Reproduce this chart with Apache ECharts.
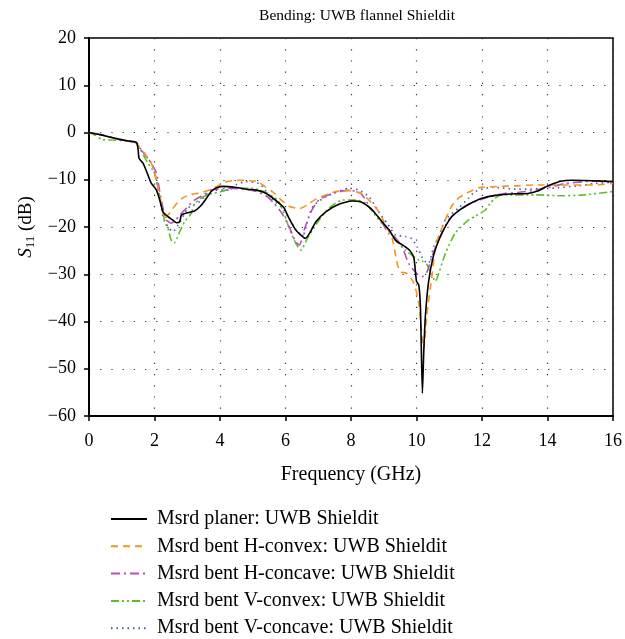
<!DOCTYPE html>
<html>
<head>
<meta charset="utf-8">
<script src="https://cdn.jsdelivr.net/npm/echarts@6/dist/echarts.min.js"></script>
<style>
  html, body { margin: 0; padding: 0; background: #fff; }
  #chart { width: 625px; height: 639px; }
</style>
</head>
<body>
<div id="chart"></div>
<script>
// [GHz, dB] pairs
const planer = [[0,0],[0.3,-0.4],[0.6,-0.9],[0.9,-1.4],[1.2,-1.8],[1.45,-2.1],[1.5,-3.7],[1.53,-5.5],[1.65,-6.5],[1.8,-9],[1.9,-10.7],[2.06,-12.2],[2.16,-14.3],[2.26,-16.8],[2.41,-17.8],[2.55,-18.5],[2.67,-19.1],[2.77,-18.9],[2.82,-17.5],[3.0,-17],[3.22,-16.6],[3.4,-15.6],[3.55,-14.3],[3.73,-12.5],[3.9,-11.7],[4.1,-11.4],[4.44,-11.6],[4.8,-12],[5.1,-12.2],[5.35,-12.7],[5.56,-13.6],[5.81,-15],[5.96,-16],[6.11,-18.2],[6.3,-20.5],[6.45,-21.6],[6.6,-22.4],[6.72,-21.5],[6.93,-18.9],[7.23,-16.8],[7.63,-15.2],[8.04,-14.5],[8.34,-14.8],[8.65,-16.4],[8.95,-18.9],[9.16,-20.6],[9.36,-22.8],[9.5,-23.5],[9.66,-24.2],[9.8,-25],[9.92,-26.5],[10.0,-31.5],[10.07,-32.3],[10.12,-37],[10.18,-55.2],[10.22,-46.7],[10.27,-39],[10.37,-31.5],[10.52,-26],[10.68,-22.8],[10.85,-20.3],[11.08,-17.8],[11.3,-16.5],[11.49,-15.6],[11.7,-14.8],[12.0,-13.9],[12.4,-13.3],[12.9,-13],[13.4,-12.9],[13.7,-12.4],[13.92,-11.6],[14.15,-10.9],[14.4,-10.3],[14.73,-10.1],[15.34,-10.2],[16,-10.4]];

const hConvex = [[0,0],[0.3,-0.4],[0.6,-0.9],[0.9,-1.4],[1.2,-1.8],[1.45,-2.2],[1.55,-3.3],[1.7,-4.4],[1.9,-6.5],[2.0,-8.3],[2.11,-11.8],[2.21,-15.3],[2.31,-18.2],[2.4,-17.5],[2.55,-16.2],[2.7,-14.8],[2.85,-13.9],[3.07,-13.2],[3.43,-12.7],[3.7,-12.1],[3.93,-11.3],[4.2,-10.4],[4.6,-10.1],[5.05,-10.3],[5.2,-10.6],[5.4,-11.6],[5.6,-12.5],[5.81,-13.9],[6.11,-15.6],[6.42,-16.1],[6.67,-15.3],[6.9,-14.2],[7.13,-13.5],[7.53,-12.5],[7.94,-12.3],[8.24,-12.7],[8.55,-14.3],[8.85,-16.8],[9.06,-19.6],[9.26,-22.5],[9.41,-27.7],[9.51,-29.5],[9.71,-29.8],[9.92,-31.9],[10.07,-36.1],[10.22,-45.8],[10.32,-38.3],[10.47,-30.5],[10.6,-23.5],[10.88,-18.5],[11.08,-15.5],[11.3,-13.8],[11.6,-12.6],[11.9,-11.7],[12.5,-11.4],[13.0,-11.3],[13.6,-11.1],[14.4,-11.1],[15.4,-11.1],[16,-10.8]];

const hConcave = [[0,0],[0.3,-0.4],[0.6,-0.9],[0.9,-1.5],[1.2,-1.8],[1.45,-2.2],[1.5,-3],[1.7,-4.6],[1.9,-6.5],[2.06,-8.6],[2.16,-12.5],[2.26,-16],[2.36,-18.5],[2.51,-19.2],[2.65,-18.5],[2.77,-17.5],[2.92,-16.4],[3.22,-14.3],[3.5,-13.2],[3.73,-12.2],[4.24,-11.8],[4.95,-12.2],[5.2,-12.7],[5.45,-13.6],[5.65,-15],[5.86,-16.8],[6.11,-19.9],[6.3,-23],[6.42,-23.8],[6.6,-20],[6.8,-16.5],[7.03,-14.2],[7.43,-12.9],[7.94,-12.2],[8.3,-12.9],[8.6,-16],[8.9,-18.5],[9.16,-21.5],[9.3,-21.8],[9.56,-24.2],[9.76,-27.7],[10.0,-29.8],[10.17,-30.5],[10.32,-29.5],[10.47,-26.3],[10.68,-22.8],[10.98,-18.5],[11.28,-16.6],[11.6,-15.2],[12.0,-14.1],[12.6,-13],[13.1,-12.7],[13.62,-12.2],[14.12,-11.5],[14.53,-10.8],[15.13,-10.4],[15.64,-10.2],[16,-10.4]];

const vConvex = [[0,0],[0.2,-0.6],[0.4,-1.5],[0.7,-1.6],[1.0,-1.7],[1.3,-1.9],[1.45,-2.3],[1.6,-4],[1.8,-6.5],[2.0,-8.6],[2.16,-13.6],[2.26,-16.8],[2.31,-18.9],[2.41,-20.3],[2.51,-22.8],[2.6,-23.4],[2.7,-22.2],[2.77,-21],[2.92,-18.9],[3.12,-17.1],[3.22,-15.2],[3.4,-14],[3.63,-13.2],[4.04,-12.5],[4.44,-11.8],[4.95,-11.8],[5.35,-12.5],[5.76,-14.3],[5.95,-17],[6.11,-20.2],[6.32,-23.5],[6.47,-24.9],[6.67,-22.4],[7.03,-18.5],[7.33,-16],[7.74,-14.3],[8.15,-14.3],[8.45,-15],[8.85,-18.5],[9.16,-20.6],[9.36,-22.8],[9.66,-24.9],[10.07,-27],[10.17,-27.2],[10.32,-28],[10.45,-30],[10.58,-31.5],[10.68,-29.8],[10.88,-25.6],[11.18,-21.3],[11.59,-18.5],[11.8,-17.7],[12.1,-16.4],[12.25,-15],[12.4,-13.9],[12.6,-13.2],[13.62,-13.2],[14.43,-13.4],[15.13,-13.2],[16,-12.5]];

const vConcave = [[0,0],[0.3,-0.4],[0.6,-0.9],[0.9,-1.4],[1.2,-1.8],[1.45,-2.2],[1.55,-3.2],[1.7,-4.5],[1.9,-6.5],[2.0,-8.5],[2.11,-11.8],[2.26,-17.8],[2.41,-19.9],[2.56,-21],[2.72,-19.6],[3.02,-16],[3.22,-15.2],[3.38,-14.6],[3.78,-12.2],[4.29,-12.2],[4.5,-11],[4.8,-10.4],[5.2,-10.8],[5.4,-12.3],[5.61,-14.3],[5.91,-16],[6.11,-18.2],[6.32,-20.6],[6.47,-21.5],[6.55,-21.5],[6.7,-18],[6.85,-15.5],[7.23,-13.6],[7.94,-11.8],[8.24,-12.2],[8.55,-13.6],[8.85,-16.8],[9.1,-19.2],[9.36,-21.7],[9.66,-22],[9.86,-22.5],[10.02,-24.2],[10.22,-27],[10.37,-27.7],[10.52,-24.2],[10.68,-22],[10.88,-18.5],[11.28,-16],[11.59,-13.9],[11.79,-12.5],[12.3,-11.6],[13.1,-12],[14.12,-11.8],[14.93,-11.3],[15.44,-10.8],[16,-10.5]];

const seriesNames = [
  'Msrd planer: UWB Shieldit',
  'Msrd bent H-convex: UWB Shieldit',
  'Msrd bent H-concave: UWB Shieldit',
  'Msrd bent V-convex: UWB Shieldit',
  'Msrd bent V-concave: UWB Shieldit'
]
const seriesData = [planer, hConvex, hConcave, vConvex, vConcave]
const seriesColors = ['#000000', '#f7941d', '#b84fb8', '#5cbf2a', '#3a58c8']
const seriesDash = ['solid', [7, 5], [9, 4, 2, 4], [8, 3, 2, 3, 2, 3], [1.5, 4]]

const font = '"Liberation Serif", "DejaVu Serif", serif'
const minus = v => String(v).replace('-', '\u2212')

const chart = echarts.init(document.getElementById('chart'))

chart.setOption({
  animation: false,
  title: {
    text: 'Bending: UWB flannel Shieldit',
    left: 352,
    top: 3,
    textAlign: 'center',
    textStyle: { fontFamily: font, fontSize: 15.5, fontWeight: 'normal', color: '#000' }
  },
  grid: {
    left: 89,
    right: 10,
    top: 38,
    bottom: 223,
    show: true,
    borderColor: '#000',
    borderWidth: 1.5
  },
  legend: {
    orient: 'vertical',
    left: 110,
    top: 509,
    height: 135,
    padding: 0,
    itemWidth: 36,
    itemHeight: 14,
    itemGap: 7.3,
    data: seriesNames,
    itemStyle: { opacity: 0 },
    textStyle: { fontFamily: font, fontSize: 20, color: '#000', padding: [0, 0, 0, 5], lineHeight: 19 }
  },
  xAxis: {
    type: 'value',
    min: 0,
    max: 16,
    interval: 2,
    name: 'Frequency (GHz)',
    nameLocation: 'middle',
    nameGap: 49,
    nameTextStyle: { fontFamily: font, fontSize: 20, color: '#000' },
    axisLine: { onZero: false, lineStyle: { color: '#000', width: 2 } },
    axisTick: { length: 5, lineStyle: { color: '#000', width: 1.5 } },
    axisLabel: { fontFamily: font, fontSize: 18, color: '#000', margin: 16 },
    splitLine: { show: true, lineStyle: { color: '#333', width: 1.2, type: [1.2, 10] } }
  },
  yAxis: {
    type: 'value',
    min: -60,
    max: 20,
    interval: 10,
    name: '{i|S}{s|11}{n| (dB)}',
    nameLocation: 'middle',
    nameGap: 35,
    nameTextStyle: {
      fontFamily: font, fontSize: 19, color: '#000',
      rich: {
        i: { fontFamily: font, fontSize: 19, fontStyle: 'italic', color: '#000' },
        s: { fontFamily: font, fontSize: 13, color: '#000', verticalAlign: 'bottom', padding: [9, 0, 0, 0] },
        n: { fontFamily: font, fontSize: 19, color: '#000' }
      }
    },
    axisLine: { show: true, onZero: false, lineStyle: { color: '#000', width: 2 } },
    axisTick: { show: true, length: 5, lineStyle: { color: '#000', width: 1.5 } },
    axisLabel: { fontFamily: font, fontSize: 18, color: '#000', margin: 13, formatter: minus },
    splitLine: { show: true, lineStyle: { color: '#333', width: 1.2, type: [1.2, 10] } }
  },
  series: seriesNames.map((name, i) => ({
    name,
    type: 'line',
    data: seriesData[i],
    showSymbol: false,
    symbol: 'none',
    smooth: 0.2,
    z: 10 - i,
    lineStyle: { color: seriesColors[i], width: 1.6, type: seriesDash[i] },
    itemStyle: { color: seriesColors[i] }
  }))
})
</script>
</body>
</html>
